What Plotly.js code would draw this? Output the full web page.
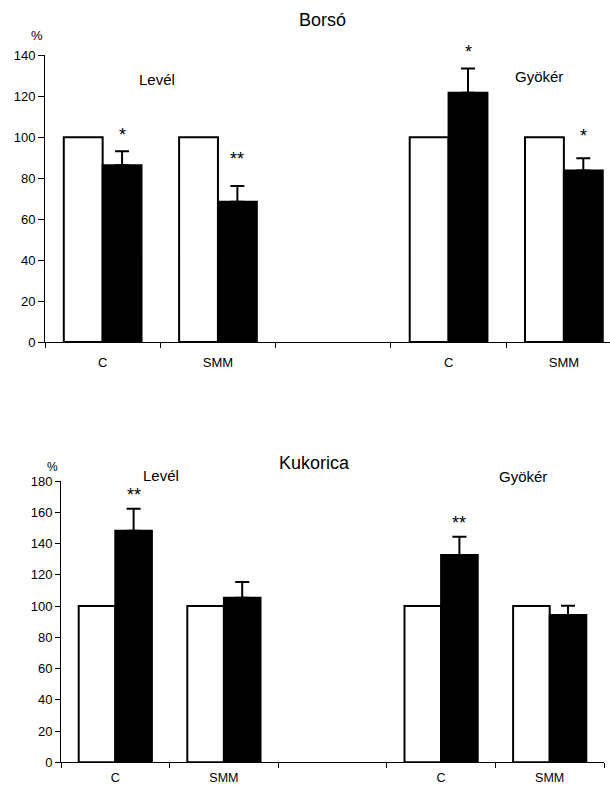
<!DOCTYPE html>
<html>
<head>
<meta charset="utf-8">
<script src="https://cdn.plot.ly/plotly-3.0.1.min.js"></script>
<style>
  html, body { margin: 0; padding: 0; background: #fff; }
  #chart { width: 610px; height: 787px; }
</style>
</head>
<body>
<div id="chart"></div>
<script>
// ---------- DATA ----------
const categories = ['C', 'SMM', '', 'C', 'SMM'];
const barPositions = [0, 1, 3, 4];
const barLabels = ['C', 'SMM', 'C', 'SMM'];

// Borsó (pea)
const borsoControl = [100, 100, 100, 100];
const borsoTreated = [86.3, 68.5, 121.7, 83.8];
const borsoErr = [6.8, 7.7, 11.9, 5.9];
const borsoSig = ['*', '**', '*', '*'];
const borsoSigY = [103.4, 91.6, 144.2, 103.1];

// Kukorica (maize)
const kukoricaControl = [100, 100, 100, 100];
const kukoricaTreated = [148.2, 105.3, 132.6, 94.3];
const kukoricaErr = [14.1, 10.1, 11.8, 5.9];
const kukoricaSig = ['**', '', '**', ''];
const kukoricaSigY = [174.4, null, 156.4, null];

const organLabels = ['Levél', 'Gyökér'];
const chartTitles = ['Borsó', 'Kukorica'];
const unitLabel = '%';

// ---------- LAYOUT HELPERS ----------
const W = 610, H = 787;
const FONT = '"Liberation Sans", Arial, Helvetica, sans-serif';
const BW = 0.337;
const px = x => x / W;
const py = y => 1 - y / H;
const boundaries = categories.map((_, i) => i - 0.5).concat([categories.length - 0.5]);

// panel geometry (pixels)
const panels = [
  { x0: 45, x1: 610, yBottom: 342, yTop: 55.3, xr: [-0.5, 4.4], yr: [0, 140] },
  { x0: 61, x1: 604, yBottom: 762.3, yTop: 481, xr: [-0.5, 4.5], yr: [0, 180] }
];

function barTraces(control, treated, err, xa, ya) {
  return [
    {
      type: 'bar', x: barPositions, y: control, xaxis: xa, yaxis: ya,
      width: BW, offset: -BW,
      marker: { color: '#ffffff', line: { color: '#000000', width: 2 } },
      showlegend: false, hoverinfo: 'skip'
    },
    {
      type: 'bar', x: barPositions, y: treated, xaxis: xa, yaxis: ya,
      width: BW, offset: 0,
      marker: { color: '#000000', line: { color: '#000000', width: 2 } },
      error_y: {
        type: 'data', symmetric: false, array: err,
        arrayminus: err.map(() => 0),
        color: '#000000', thickness: 2, width: 7
      },
      showlegend: false, hoverinfo: 'skip'
    }
  ];
}

function xAxis(p, anchor, ticklen, fs) {
  return {
    domain: [px(p.x0), px(p.x1)], range: p.xr, anchor: anchor,
    tickmode: 'array', tickvals: barPositions, ticktext: barLabels,
    ticks: 'outside', ticklen: ticklen, tickcolor: 'rgba(0,0,0,0)',
    tickfont: { family: FONT, size: fs, color: '#000' },
    minor: {
      tickmode: 'array', tickvals: boundaries,
      ticks: 'outside', ticklen: 5, tickcolor: '#000', tickwidth: 1, showgrid: false
    },
    showline: true, linecolor: '#000', linewidth: 1,
    showgrid: false, zeroline: false, fixedrange: true, automargin: false
  };
}

function yAxis(p, anchor, ticklen) {
  return {
    domain: [py(p.yBottom), py(p.yTop)], range: p.yr, anchor: anchor,
    tickmode: 'linear', tick0: 0, dtick: 20,
    ticks: 'outside', ticklen: ticklen, tickcolor: '#000', tickwidth: 1,
    tickfont: { family: FONT, size: 13, color: '#000' },
    showline: true, linecolor: '#000', linewidth: 1,
    showgrid: false, zeroline: false, fixedrange: true, automargin: false
  };
}

const data = []
  .concat(barTraces(borsoControl, borsoTreated, borsoErr, 'x', 'y'))
  .concat(barTraces(kukoricaControl, kukoricaTreated, kukoricaErr, 'x2', 'y2'));

const annotations = [];
// significance marks: placed in paper space via the panel's linear scale
function sigAnnots(sig, sigY, p) {
  sig.forEach((s, i) => {
    if (!s) return;
    const xv = barPositions[i] + BW / 2;
    const xpx = p.x0 + (xv - p.xr[0]) / (p.xr[1] - p.xr[0]) * (p.x1 - p.x0);
    const ypx = p.yBottom - (sigY[i] - p.yr[0]) / (p.yr[1] - p.yr[0]) * (p.yBottom - p.yTop);
    annotations.push({
      xref: 'paper', yref: 'paper', x: px(xpx), y: py(ypx),
      xanchor: 'center', yanchor: 'middle',
      text: s, showarrow: false, yshift: -5,
      font: { family: FONT, size: 18, color: '#000' }
    });
  });
}
sigAnnots(borsoSig, borsoSigY, panels[0]);
sigAnnots(kukoricaSig, kukoricaSigY, panels[1]);

function textAnnot(text, x, y, size) {
  annotations.push({
    xref: 'paper', yref: 'paper', x: px(x), y: py(y),
    xanchor: 'center', yanchor: 'middle', text: text, showarrow: false,
    font: { family: FONT, size: size, color: '#000' }
  });
}
textAnnot(chartTitles[0], 322, 20, 18);
textAnnot(chartTitles[1], 314, 463, 18);
textAnnot(unitLabel, 37, 35, 13);
textAnnot(unitLabel, 52, 467, 12);
textAnnot(organLabels[0], 157, 80, 15);
textAnnot(organLabels[1], 539, 76, 15);
textAnnot(organLabels[0], 161, 475, 15);
textAnnot(organLabels[1], 523, 476, 15);

const layout = {
  width: W, height: H,
  margin: { l: 0, r: 0, t: 0, b: 0, pad: 0 },
  paper_bgcolor: '#ffffff', plot_bgcolor: '#ffffff',
  barmode: 'group',
  showlegend: false,
  font: { family: FONT, color: '#000' },
  xaxis: xAxis(panels[0], 'y', 8, 13),
  yaxis: yAxis(panels[0], 'x', 6),
  xaxis2: xAxis(panels[1], 'y2', 4, 12.5),
  yaxis2: yAxis(panels[1], 'x2', 5),
  annotations: annotations
};

Plotly.newPlot('chart', data, layout, { staticPlot: true, displayModeBar: false });
</script>
</body>
</html>
